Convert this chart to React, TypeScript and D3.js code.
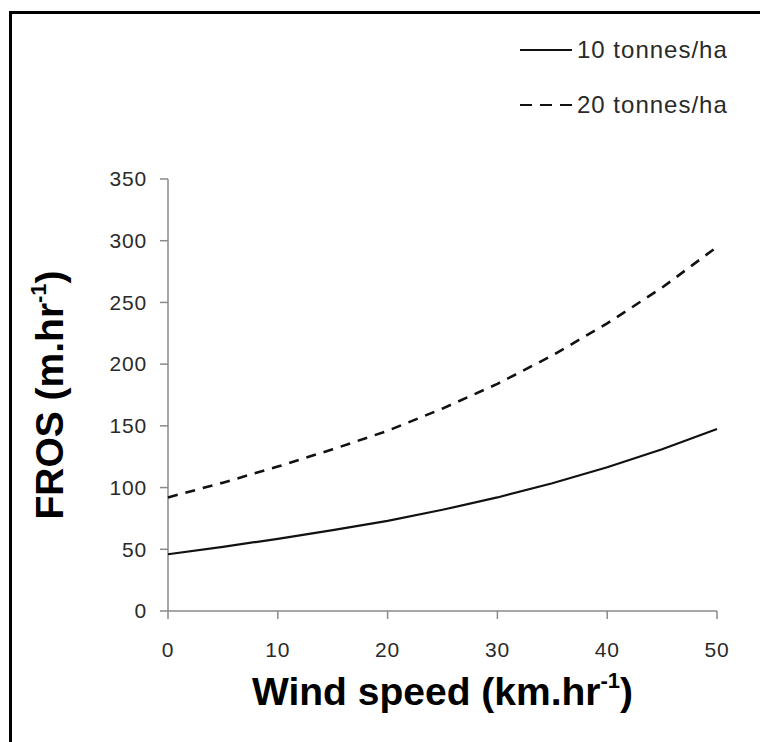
import React from "react";
import * as d3 from "d3";

// Wind speed (km/h) sampled every 5 units
const windSpeed = [0, 5, 10, 15, 20, 25, 30, 35, 40, 45, 50];
// Forward rate of spread (m/hr) for two fuel loads
const fros10 = [46, 52, 58.5, 65.5, 73, 82, 92, 103.5, 116.5, 131, 147.5];
const fros20 = [92, 104, 117, 131, 146, 164, 184, 207, 233, 262, 295];

const seriesLabels = ["10 tonnes/ha", "20 tonnes/ha"];
const xTicks = [0, 10, 20, 30, 40, 50];
const yTicks = [0, 50, 100, 150, 200, 250, 300, 350];

const W = 760;
const H = 742;
const FONT = "'Liberation Sans', Arial, Helvetica, sans-serif";

export default function App() {
  const x = d3.scaleLinear().domain([0, 50]).range([168, 717]);
  const y = d3.scaleLinear().domain([0, 350]).range([611, 179]);

  const line = d3
    .line<number>()
    .x((_, i) => x(windSpeed[i]))
    .y((d) => y(d))
    .curve(d3.curveLinear);

  const axisColor = "#8a8a8a";
  const labelColor = "#2a2a2a";

  return (
    <svg
      width={W}
      height={H}
      style={{ position: "fixed", left: 0, top: 0, background: "#fff" }}
      fontFamily={FONT}
    >
      <rect x={0} y={0} width={W} height={H} fill="#fff" />
      {/* outer frame, running off the right and bottom edges */}
      <rect
        x={10.5}
        y={12.5}
        width={W + 20}
        height={H + 20}
        fill="none"
        stroke="#000"
        strokeWidth={3}
      />

      {/* y axis */}
      <line x1={x(0)} x2={x(0)} y1={y(350)} y2={y(0)} stroke={axisColor} strokeWidth={1.5} />
      {yTicks.map((t) => (
        <g key={"y" + t}>
          <line x1={x(0) - 8} x2={x(0)} y1={y(t)} y2={y(t)} stroke={axisColor} strokeWidth={1.5} />
          <text
            x={147}
            y={y(t)}
            dy="0.35em"
            textAnchor="end"
            fontSize={21}
            letterSpacing={0.8}
            fill={labelColor}
          >
            {t}
          </text>
        </g>
      ))}

      {/* x axis */}
      <line x1={x(0)} x2={x(50)} y1={y(0)} y2={y(0)} stroke={axisColor} strokeWidth={1.5} />
      {xTicks.map((t) => (
        <g key={"x" + t}>
          <line x1={x(t)} x2={x(t)} y1={y(0)} y2={y(0) + 8} stroke={axisColor} strokeWidth={1.5} />
          <text
            x={x(t)}
            y={657}
            textAnchor="middle"
            fontSize={21}
            letterSpacing={0.8}
            fill={labelColor}
          >
            {t}
          </text>
        </g>
      ))}

      {/* series */}
      <path d={line(fros10) || ""} fill="none" stroke="#111" strokeWidth={2.2} />
      <path
        d={line(fros20) || ""}
        fill="none"
        stroke="#111"
        strokeWidth={2.6}
        strokeDasharray="10,8"
      />

      {/* legend */}
      <line x1={520} x2={572} y1={50} y2={50} stroke="#111" strokeWidth={2} />
      <text x={577} y={50} dy="0.35em" fontSize={24} letterSpacing={1} fill={labelColor}>
        {seriesLabels[0]}
      </text>
      <line
        x1={520}
        x2={572}
        y1={105}
        y2={105}
        stroke="#111"
        strokeWidth={2}
        strokeDasharray="12,8"
      />
      <text x={577} y={105} dy="0.35em" fontSize={24} letterSpacing={1} fill={labelColor}>
        {seriesLabels[1]}
      </text>

      {/* axis titles */}
      <text
        x={(x(0) + x(50)) / 2}
        y={705}
        textAnchor="middle"
        fontSize={39}
        fontWeight="bold"
        fill="#000"
      >
        Wind speed (km.hr
        <tspan fontSize={22} dy={-17}>-1</tspan>
        <tspan dy={17}>)</tspan>
      </text>
      <text
        transform={`translate(63,${(y(0) + y(350)) / 2}) rotate(-90)`}
        textAnchor="middle"
        fontSize={39}
        fontWeight="bold"
        fill="#000"
      >
        FROS (m.hr
        <tspan fontSize={22} dy={-17}>-1</tspan>
        <tspan dy={17}>)</tspan>
      </text>
    </svg>
  );
}
